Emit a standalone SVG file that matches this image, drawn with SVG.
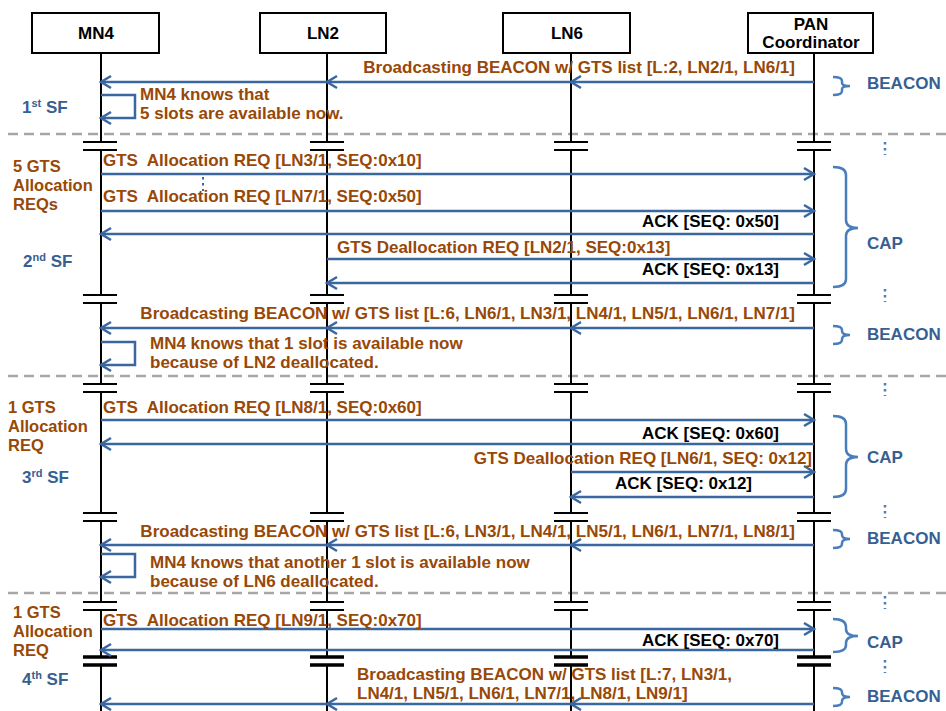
<svg xmlns="http://www.w3.org/2000/svg" width="946" height="711" viewBox="0 0 946 711">
<defs>
<style>
.box{fill:#fff;stroke:#000;stroke-width:2}
.life{stroke:#000;stroke-width:2;fill:none}
.brk{stroke:#000;stroke-width:2}
.brk2{stroke:#000;stroke-width:3.5}
.nl{font-family:"Liberation Sans",Arial,sans-serif;font-weight:bold;font-size:17px;fill:#000;text-anchor:middle}
.msg{font-family:"Liberation Sans",Arial,sans-serif;font-weight:bold;font-size:17px;fill:#984807}
.note{font-family:"Liberation Sans",Arial,sans-serif;font-weight:bold;font-size:16.5px;fill:#984807}
.ack{font-family:"Liberation Sans",Arial,sans-serif;font-weight:bold;font-size:17px;fill:#000;text-anchor:end}
.blu{font-family:"Liberation Sans",Arial,sans-serif;font-weight:bold;font-size:17px;fill:#376092}
.arr{stroke:#3A67A0;stroke-width:2.5;fill:none;marker-end:url(#ah)}
.dash{stroke:#A6A6A6;stroke-width:2.5;stroke-dasharray:10 6;fill:none}
.brace{stroke:#4A7EBB;stroke-width:2.5;fill:none}
.dots{stroke:#4A7EBB;stroke-width:2.5;stroke-dasharray:2.5 3.5;fill:none}
</style>
<marker id="ah" markerUnits="userSpaceOnUse" markerWidth="16" markerHeight="16" viewBox="-13 -8 16 16" refX="0" refY="0" orient="auto">
<path d="M-10,-6 L0,0 L-10,6" fill="none" stroke="#3A67A0" stroke-width="2.5"/>
</marker>
</defs>
<rect width="946" height="711" fill="#fff"/>

<g id="separators">
<line class="dash" x1="8" y1="134" x2="946" y2="134"/>
<line class="dash" x1="8" y1="376" x2="946" y2="376"/>
<line class="dash" x1="8" y1="593" x2="946" y2="593"/>
</g>

<g id="MN4">
<rect class="box" x="32" y="13" width="127" height="40"/>
<text class="nl" x="96" y="39">MN4</text>
<path class="life" d="M101,53V142M101,150V295M101,303V384M101,392V513M101,521V602M101,610V657M101,665V711"/>
<path class="brk" d="M83,142H117M83,150H117M83,295H117M83,303H117M83,384H117M83,392H117M83,513H117M83,521H117M83,602H117M83,610H117"/>
<path class="brk2" d="M83,657H117M83,665H117"/>
</g>
<g id="LN2">
<rect class="box" x="260" y="13" width="126" height="40"/>
<text class="nl" x="323" y="39">LN2</text>
<path class="life" d="M327,53V142M327,150V295M327,303V384M327,392V513M327,521V602M327,610V657M327,665V711"/>
<path class="brk" d="M310,142H344M310,150H344M310,295H344M310,303H344M310,384H344M310,392H344M310,513H344M310,521H344M310,602H344M310,610H344"/>
<path class="brk2" d="M310,657H344M310,665H344"/>
</g>
<g id="LN6">
<rect class="box" x="503" y="13" width="127" height="40"/>
<text class="nl" x="567" y="39">LN6</text>
<path class="life" d="M571,53V142M571,150V295M571,303V384M571,392V513M571,521V602M571,610V657M571,665V711"/>
<path class="brk" d="M554,142H588M554,150H588M554,295H588M554,303H588M554,384H588M554,392H588M554,513H588M554,521H588M554,602H588M554,610H588"/>
<path class="brk2" d="M554,657H588M554,665H588"/>
</g>
<g id="PAN">
<rect class="box" x="748" y="13" width="125" height="40"/>
<text class="nl" x="811" y="30">PAN</text>
<text class="nl" x="811" y="48">Coordinator</text>
<path class="life" d="M814,53V142M814,150V295M814,303V384M814,392V513M814,521V602M814,610V657M814,665V711"/>
<path class="brk" d="M797,142H831M797,150H831M797,295H831M797,303H831M797,384H831M797,392H831M797,513H831M797,521H831M797,602H831M797,610H831"/>
<path class="brk2" d="M797,657H831M797,665H831"/>
</g>

<g id="connectors">
<line class="arr" x1="814" y1="82" x2="571" y2="82"/>
<line class="arr" x1="571" y1="82" x2="327" y2="82"/>
<line class="arr" x1="327" y1="82" x2="101" y2="82"/>
<path class="arr" d="M101,95H135V118H101"/>
<line class="arr" x1="101" y1="174" x2="814" y2="174"/>
<line class="dots" x1="203" y1="177" x2="203" y2="191" style="stroke:#3A67A0;stroke-width:2"/>
<line class="arr" x1="101" y1="211" x2="814" y2="211"/>
<line class="arr" x1="814" y1="234" x2="101" y2="234"/>
<line class="arr" x1="327" y1="259" x2="814" y2="259"/>
<line class="arr" x1="814" y1="283" x2="327" y2="283"/>
<line class="arr" x1="814" y1="328" x2="571" y2="328"/>
<line class="arr" x1="571" y1="328" x2="327" y2="328"/>
<line class="arr" x1="327" y1="328" x2="101" y2="328"/>
<path class="arr" d="M101,342H135V365H101"/>
<line class="arr" x1="101" y1="420" x2="814" y2="420"/>
<line class="arr" x1="814" y1="444" x2="101" y2="444"/>
<line class="arr" x1="571" y1="472" x2="814" y2="472"/>
<line class="arr" x1="814" y1="497" x2="571" y2="497"/>
<line class="arr" x1="814" y1="545" x2="571" y2="545"/>
<line class="arr" x1="571" y1="545" x2="327" y2="545"/>
<line class="arr" x1="327" y1="545" x2="101" y2="545"/>
<path class="arr" d="M101,554H135V577H101"/>
<line class="arr" x1="101" y1="629" x2="814" y2="629"/>
<line class="arr" x1="814" y1="650" x2="101" y2="650"/>
<line class="arr" x1="814" y1="704" x2="571" y2="704"/>
<line class="arr" x1="571" y1="704" x2="327" y2="704"/>
<line class="arr" x1="327" y1="704" x2="101" y2="704"/>
</g>

<g id="labels">
<text class="msg" x="795" y="73" text-anchor="end">Broadcasting BEACON w/ GTS list [L:2, LN2/1, LN6/1]</text>
<text class="msg" x="140" y="100">MN4 knows that</text>
<text class="msg" x="140" y="119">5 slots are available now.</text>
<text class="msg" x="103" y="166" xml:space="preserve">GTS  Allocation REQ [LN3/1, SEQ:0x10]</text>
<text class="msg" x="103" y="202" xml:space="preserve">GTS  Allocation REQ [LN7/1, SEQ:0x50]</text>
<text class="ack" x="779" y="227">ACK [SEQ: 0x50]</text>
<text class="msg" x="337" y="253">GTS Deallocation REQ [LN2/1, SEQ:0x13]</text>
<text class="ack" x="779" y="275">ACK [SEQ: 0x13]</text>
<text class="msg" x="795" y="319" text-anchor="end">Broadcasting BEACON w/ GTS list [L:6, LN6/1, LN3/1, LN4/1, LN5/1, LN6/1, LN7/1]</text>
<text class="msg" x="150" y="349">MN4 knows that 1 slot is available now</text>
<text class="msg" x="150" y="368">because of LN2 deallocated.</text>
<text class="msg" x="103" y="413" xml:space="preserve">GTS  Allocation REQ [LN8/1, SEQ:0x60]</text>
<text class="ack" x="779" y="439">ACK [SEQ: 0x60]</text>
<text class="msg" x="812" y="464" text-anchor="end">GTS Deallocation REQ [LN6/1, SEQ: 0x12]</text>
<text class="ack" x="752" y="489">ACK [SEQ: 0x12]</text>
<text class="msg" x="795" y="537" text-anchor="end">Broadcasting BEACON w/ GTS list [L:6, LN3/1, LN4/1, LN5/1, LN6/1, LN7/1, LN8/1]</text>
<text class="msg" x="150" y="568">MN4 knows that another 1 slot is available now</text>
<text class="msg" x="150" y="587">because of LN6 deallocated.</text>
<text class="msg" x="103" y="626" xml:space="preserve">GTS  Allocation REQ [LN9/1, SEQ:0x70]</text>
<text class="ack" x="779" y="646">ACK [SEQ: 0x70]</text>
<text class="msg" x="357" y="680">Broadcasting BEACON w/ GTS list [L:7, LN3/1,</text>
<text class="msg" x="357" y="699">LN4/1, LN5/1, LN6/1, LN7/1, LN8/1, LN9/1]</text>
</g>

<g id="left-notes">
<text class="blu" x="22" y="113">1<tspan font-size="11" dy="-6">st</tspan><tspan dy="6"> SF</tspan></text>
<text class="note" x="13" y="172">5 GTS</text>
<text class="note" x="13" y="191">Allocation</text>
<text class="note" x="13" y="210">REQs</text>
<text class="blu" x="23" y="267">2<tspan font-size="11" dy="-6">nd</tspan><tspan dy="6"> SF</tspan></text>
<text class="note" x="8" y="413">1 GTS</text>
<text class="note" x="8" y="432">Allocation</text>
<text class="note" x="8" y="451">REQ</text>
<text class="blu" x="22" y="483">3<tspan font-size="11" dy="-6">rd</tspan><tspan dy="6"> SF</tspan></text>
<text class="note" x="13" y="618">1 GTS</text>
<text class="note" x="13" y="637">Allocation</text>
<text class="note" x="13" y="656">REQ</text>
<text class="blu" x="22" y="685">4<tspan font-size="11" dy="-6">th</tspan><tspan dy="6"> SF</tspan></text>
</g>

<g id="right-notes">
<path class="brace" d="M833,77Q842,77 842,81V83Q842,86 850,86Q842,86 842,89V91Q842,95 833,95"/>
<text class="blu" x="867" y="89">BEACON</text>
<line class="dots" x1="885" y1="142" x2="885" y2="155"/>
<path class="brace" d="M833,167Q846,167 846,175V220Q846,228 858,228Q846,228 846,236V279Q846,287 833,287"/>
<text class="blu" x="867" y="249">CAP</text>
<line class="dots" x1="885" y1="289" x2="885" y2="302"/>
<path class="brace" d="M833,326Q842,326 842,330V331Q842,335 850,335Q842,335 842,339V340Q842,344 833,344"/>
<text class="blu" x="867" y="340">BEACON</text>
<line class="dots" x1="885" y1="383" x2="885" y2="396"/>
<path class="brace" d="M833,416Q846,416 846,424V449Q846,457 858,457Q846,457 846,465V489Q846,497 833,497"/>
<text class="blu" x="867" y="463">CAP</text>
<line class="dots" x1="885" y1="505" x2="885" y2="518"/>
<path class="brace" d="M833,530Q842,530 842,534V535Q842,539 850,539Q842,539 842,543V544Q842,548 833,548"/>
<text class="blu" x="867" y="544">BEACON</text>
<line class="dots" x1="885" y1="596" x2="885" y2="609"/>
<path class="brace" d="M833,619Q846,619 846,627V629Q846,636 858,636Q846,636 846,643V645Q846,652 833,652"/>
<text class="blu" x="867" y="648">CAP</text>
<line class="dots" x1="885" y1="660" x2="885" y2="673"/>
<path class="brace" d="M833,688Q842,688 842,692V693Q842,697 850,697Q842,697 842,701V702Q842,706 833,706"/>
<text class="blu" x="867" y="702">BEACON</text>
</g>
</svg>
